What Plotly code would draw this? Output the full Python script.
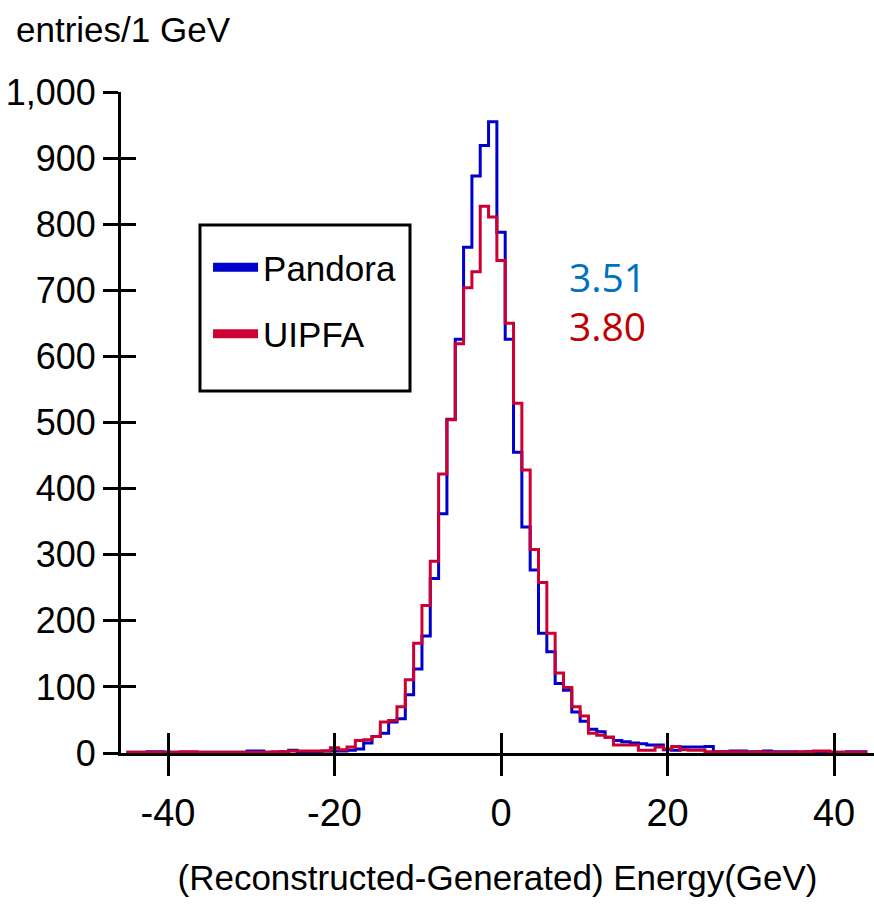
import plotly.graph_objects as go

# bin centres (1 GeV bins)
bin_centers = list(range(-45, 45))

pandora = [1, 1, 1, 2, 2, 1, 1, 1, 1, 1, 1, 1, 1, 1, 1, 3, 3, 1, 1, 2, 4, 2, 2, 2, 3,   # -45..-21
           3, 3, 4, 6, 15, 25, 30, 47, 52, 88, 127, 177, 264, 362, 505, 626, 765, 873, 919, 955,  # -20..-1
           788, 626, 455, 342, 277, 181, 153, 105, 95, 62, 48, 36, 32, 24, 19, 17, 15, 14, 12, 12,  # 0..19
           5, 4, 9, 9, 9, 10, 2, 2, 3, 3, 2, 2, 3, 2, 2, 2, 1, 2, 2, 2, 1, 1, 2, 2, 2]  # 20..44

uipfa = [1, 1, 1, 1, 1, 1, 1, 2, 2, 1, 1, 1, 1, 1, 1, 1, 1, 1, 2, 2, 3, 3, 3, 3, 3,
         8, 5, 9, 19, 20, 25, 47, 49, 70, 111, 166, 223, 290, 422, 504, 619, 704, 728, 827, 811,
         745, 650, 529, 428, 308, 258, 181, 121, 99, 70, 56, 30, 27, 24, 12, 12, 12, 4, 4, 9,
         6, 10, 5, 4, 4, 2, 2, 2, 2, 2, 1, 2, 1, 1, 1, 1, 2, 2, 3, 3, 1, 1, 1, 1, 1]

series_names = ["Pandora", "UIPFA"]
series_colors = ["#0000CC", "#CC0033"]
resolutions = ["3.51", "3.80"]
res_colors = ["#0070C0", "#C00000"]

x_tick_vals = [-40, -20, 0, 20, 40]
x_tick_text = ["-40", "-20", "0", "20", "40"]

FONT = "Liberation Sans, Arial, sans-serif"
x_range = [-45.65, 44.8]
y_range = [0, 1000]

fig = go.Figure()
for name, vals, col in zip(series_names, [pandora, uipfa], series_colors):
    fig.add_trace(go.Scatter(x=bin_centers, y=vals, mode="lines", name=name,
                             line=dict(color=col, width=3, shape="hvh"),
                             showlegend=False))
# legend entries (thick sample lines)
for name, col in zip(series_names, series_colors):
    fig.add_trace(go.Scatter(x=[None], y=[None], mode="lines", name=name,
                             line=dict(color=col, width=9), legendgroup=name,
                             xaxis="x2", yaxis="y2"))

fig.update_layout(
    width=874, height=906,
    margin=dict(l=121, r=0, t=92, b=153),
    plot_bgcolor="white", paper_bgcolor="white",
    font=dict(family=FONT, size=38, color="black"),
    xaxis=dict(range=x_range, tickmode="array", tickvals=x_tick_vals, ticktext=x_tick_text,
               ticks="outside", ticklen=20, tickwidth=3, tickcolor="black",
               showline=True, linewidth=3, linecolor="black", showgrid=False, zeroline=False,
               tickfont=dict(size=38), ticklabelstandoff=4, automargin=False,
               title=dict(text="(Reconstructed-Generated) Energy(GeV)", font=dict(size=35), standoff=33)),
    yaxis=dict(range=y_range, tickmode="linear", tick0=0, dtick=100, tickformat=",",
               ticks="outside", ticklen=15, tickwidth=3, tickcolor="black",
               showline=True, linewidth=3, linecolor="black", showgrid=False, zeroline=False,
               tickfont=dict(size=36), ticklabelstandoff=0, automargin=False),
    xaxis2=dict(range=x_range, overlaying="x", anchor="y2", tickmode="array", tickvals=x_tick_vals,
                ticks="inside", ticklen=20, tickwidth=3, tickcolor="black",
                showticklabels=False, showline=False, showgrid=False, zeroline=False),
    yaxis2=dict(range=y_range, overlaying="y", anchor="x2", tickmode="linear", tick0=0, dtick=100,
                ticks="inside", ticklen=15, tickwidth=3, tickcolor="black",
                showticklabels=False, showline=False, showgrid=False, zeroline=False),
    legend=dict(x=0.1156, y=0.779, xanchor="left", yanchor="top",
                borderwidth=0, bgcolor="rgba(0,0,0,0)",
                font=dict(size=35), tracegroupgap=18, traceorder="grouped", itemwidth=45),
    showlegend=True,
    shapes=[dict(type="rect", xref="paper", yref="paper", x0=0.1049, x1=0.3838, y0=0.5477, y1=0.7988,
                 line=dict(color="black", width=3), fillcolor="rgba(0,0,0,0)", layer="above")],
)

fig.add_annotation(text="entries/1 GeV", xref="paper", yref="paper", x=-0.142, y=1.094,
                   xanchor="left", yanchor="middle", showarrow=False, font=dict(size=35))
for txt, col, yy in zip(resolutions, res_colors, [0.7216, 0.646]):
    fig.add_annotation(text=txt, xref="paper", yref="paper", x=0.6467, y=yy,
                       xanchor="center", yanchor="middle", showarrow=False,
                       font=dict(family="Open Sans, Noto Sans, sans-serif", size=39, color=col))

fig.write_html("out.html")
